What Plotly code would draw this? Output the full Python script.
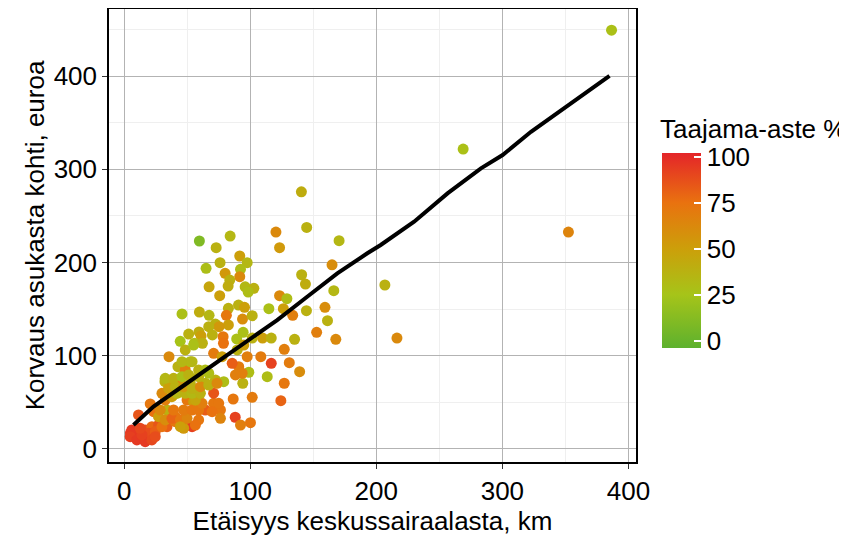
import plotly.graph_objects as go

# Distance to central hospital (km)
etaisyys = [
    386.6, 268.9, 352.4, 206.8, 216.4, 140.6, 144.8, 120.4, 123.3, 170.5,
    59.7, 84.1, 73.0, 76.1, 91.7, 97.6, 65.0, 80.1, 92.3, 91.7,
    83.8, 82.5, 67.4, 96.0, 102.9, 98.4, 75.8, 164.9, 140.8, 143.8,
    166.3, 123.3, 129.1, 82.7, 90.7, 95.5, 45.9, 59.7, 67.4, 81.1,
    93.9, 101.6, 114.8, 126.3, 133.7, 144.6, 159.3, 161.3, 82.7, 72.4,
    75.3, 67.1, 51.2, 59.4, 61.0, 70.0, 94.4, 101.6, 78.5, 89.3,
    44.5, 55.7, 62.1, 78.8, 109.8, 116.7, 135.2, 152.7, 167.9, 127.0,
    131.0, 139.2, 116.7, 113.5, 108.4, 97.6, 98.9, 94.1, 127.0, 124.3,
    101.6, 86.5, 88.1, 92.3, 100.2, 35.6, 42.7, 32.4, 20.7, 11.4,
    8.8, 14.1, 6.1, 16.7, 22.0, 27.3, 34.0, 40.6, 48.5, 53.9,
    47.2, 23.4, 27.3, 34.0, 40.6, 59.1, 64.4, 71.0, 76.4, 39.1,
    49.9, 55.1, 32.6, 39.2, 44.6, 52.5, 57.8, 64.4, 71.0, 72.4,
    79.0, 67.1, 59.1, 48.5, 52.5, 48.5, 55.1, 71.0, 77.7, 89.7,
    90.9, 85.7, 93.6, 15.4, 19.3, 24.7, 30.0, 32.6, 37.9, 44.6,
    49.9, 44.6, 28.6, 39.2, 47.2, 53.9, 59.1, 61.8, 56.5, 32.6,
    37.9, 41.9, 48.5, 53.9, 60.5, 30.0, 35.2, 40.6, 47.2, 53.9,
    60.5, 67.1, 73.7, 32.6, 39.2, 45.9, 51.2, 59.1, 64.4, 45.9,
    53.9, 75.0, 69.8, 56.5, 5.0, 4.8, 10.1, 16.7, 14.1, 12.7,
    22.0, 24.7, 94.9, 76.4, 88.3,
]

# Compensation per inhabitant (euro)
korvaus = [
    449.3, 321.7, 232.7, 175.9, 119.0, 275.9, 237.7, 232.7, 215.9, 223.4,
    223.1, 228.4, 215.9, 199.8, 207.0, 199.8, 193.8, 188.4, 192.7, 184.8,
    181.2, 174.8, 174.0, 174.0, 172.3, 168.4, 164.4, 197.6, 186.9, 176.9,
    169.8, 164.4, 161.2, 150.9, 154.4, 152.0, 144.8, 146.9, 143.4, 143.4,
    139.4, 143.0, 150.5, 150.5, 143.4, 148.3, 152.0, 137.6, 133.0, 134.0,
    131.2, 131.2, 123.3, 125.5, 121.2, 122.3, 125.1, 119.0, 120.4, 118.0,
    115.5, 113.4, 113.4, 113.4, 119.0, 119.0, 117.6, 125.1, 117.6, 106.9,
    92.5, 82.9, 91.9, 77.5, 99.0, 99.0, 82.3, 70.5, 70.5, 51.8,
    55.4, 53.6, 34.0, 25.7, 28.2, 99.0, 88.3, 72.2, 48.3, 36.5,
    16.8, 13.2, 20.4, 20.4, 23.9, 25.7, 23.9, 29.3, 31.1, 23.9,
    22.2, 40.0, 34.6, 41.8, 34.6, 31.1, 41.8, 49.0, 41.8, 57.9,
    52.5, 50.7, 74.0, 74.0, 70.5, 70.5, 63.3, 70.5, 59.8, 74.0,
    72.2, 81.2, 84.7, 84.7, 93.6, 106.2, 111.5, 102.6, 99.0, 106.2,
    88.3, 91.9, 81.2, 11.5, 16.8, 18.6, 23.9, 31.1, 32.9, 31.1,
    32.9, 23.9, 41.8, 41.8, 41.8, 41.8, 41.8, 49.0, 52.5, 52.5,
    56.1, 59.7, 59.7, 59.7, 59.7, 59.7, 65.1, 66.8, 66.8, 65.1,
    66.8, 68.6, 70.5, 75.8, 75.8, 77.5, 79.4, 77.5, 84.7, 93.6,
    93.6, 49.0, 40.0, 25.7, 17.0, 13.2, 9.7, 7.8, 15.0, 22.2,
    9.7, 13.2, 111.5, 32.9, 79.4,
]

# Urbanisation degree (%)
taajama = [
    28, 28, 65, 38, 62, 41, 38, 62, 53, 34,
    10, 34, 38, 38, 50, 34, 29, 54, 30, 62,
    38, 41, 46, 33, 38, 30, 50, 60, 38, 41,
    34, 62, 30, 38, 38, 50, 28, 41, 34, 72,
    60, 38, 28, 50, 68, 38, 60, 38, 50, 38,
    54, 38, 38, 41, 50, 38, 28, 38, 72, 28,
    26, 30, 38, 75, 50, 38, 38, 68, 62, 68,
    70, 60, 92, 30, 70, 68, 30, 38, 72, 80,
    70, 72, 92, 68, 72, 62, 38, 38, 72, 85,
    95, 95, 95, 88, 78, 85, 82, 72, 75, 92,
    54, 75, 50, 38, 72, 72, 82, 72, 72, 38,
    72, 50, 38, 38, 68, 38, 68, 38, 85, 38,
    30, 30, 38, 68, 28, 38, 28, 70, 50, 38,
    70, 82, 68, 95, 88, 82, 75, 60, 80, 72,
    65, 50, 62, 72, 70, 72, 72, 68, 46, 68,
    50, 34, 38, 33, 38, 62, 50, 38, 54, 38,
    62, 38, 62, 34, 38, 28, 38, 38, 30, 34,
    34, 72, 75, 75, 95, 93, 95, 95, 92, 90,
    90, 88, 50, 65, 68,
]

# Fitted line
line_x = [7.4, 23.3, 49.8, 76.3, 100.2, 121.4, 145.2, 169.1, 192.9, 203.5,
          230.0, 256.5, 283.0, 300.2, 322.7, 346.6, 367.8, 385.0]
line_y = [25.7, 45.4, 70.5, 95.4, 118.7, 138.3, 163.3, 188.4, 209.9, 218.8,
          243.8, 274.2, 301.0, 315.3, 340.3, 363.5, 383.2, 400.3]

x_ticks = [0, 100, 200, 300, 400]
y_ticks = [0, 100, 200, 300, 400]
c_ticks = [0, 25, 50, 75, 100]

FONT = "Liberation Sans"
FS = 26

colorscale = [
    [0.0, "#5db12e"],
    [0.274, "#a6c419"],
    [0.509, "#cc9f0a"],
    [0.745, "#e9720f"],
    [1.0, "#e42529"],
]

fig = go.Figure()
fig.add_trace(go.Scatter(
    x=etaisyys, y=korvaus, mode="markers",
    marker=dict(
        size=11, color=taajama, colorscale=colorscale, cmin=-4, cmax=102,
        line=dict(width=0), opacity=1,
        colorbar=dict(
            thickness=39, len=195, lenmode="pixels",
            x=1.0493, xanchor="left", xpad=0,
            y=0.4666, yanchor="middle", ypad=0,
            outlinewidth=0,
            tickvals=c_ticks, ticks="inside", tickcolor="white",
            ticklen=7, tickwidth=2,
            tickfont=dict(family=FONT, size=FS, color="black"),
        ),
    ),
    showlegend=False, hoverinfo="skip",
))
fig.add_trace(go.Scatter(
    x=line_x, y=line_y, mode="lines",
    line=dict(color="black", width=4),
    showlegend=False, hoverinfo="skip",
))

axis_common = dict(
    showgrid=True, gridcolor="#b3b3b3", gridwidth=1.3,
    zeroline=False, showline=True, linecolor="black", linewidth=1.5,
    mirror=True, ticks="outside", ticklen=5, tickcolor="#333333", tickwidth=1.3,
    tickfont=dict(family=FONT, size=FS, color="black"),
    automargin=False,
)

# page has an 8px body margin, so the figure is sized/offset to compensate
fig.update_layout(
    width=839, height=530,
    margin=dict(l=101, r=211, t=1, b=76, autoexpand=False),
    paper_bgcolor="white", plot_bgcolor="white",
    font=dict(family=FONT, size=FS, color="black"),
    xaxis=dict(range=[-12, 406], tickvals=x_ticks,
               title=dict(text="Etäisyys keskussairaalasta, km", standoff=2,
                          font=dict(family=FONT, size=FS, color="black")),
               minor=dict(showgrid=True, gridcolor="#efefef", gridwidth=1,
                          tickvals=[50, 150, 250, 350]),
               **axis_common),
    yaxis=dict(range=[-14, 472], tickvals=y_ticks,
               title=dict(text="Korvaus asukasta kohti, euroa", standoff=2,
                          font=dict(family=FONT, size=FS, color="black")),
               minor=dict(showgrid=True, gridcolor="#efefef", gridwidth=1,
                          tickvals=[50, 150, 250, 350, 450]),
               **axis_common),
    annotations=[dict(
        text="Taajama-aste %", xref="paper", yref="paper",
        x=1.0417, y=0.7357, xanchor="left", yanchor="middle",
        showarrow=False, font=dict(family=FONT, size=FS, color="black"),
    )],
)

fig.write_html("out.html")
